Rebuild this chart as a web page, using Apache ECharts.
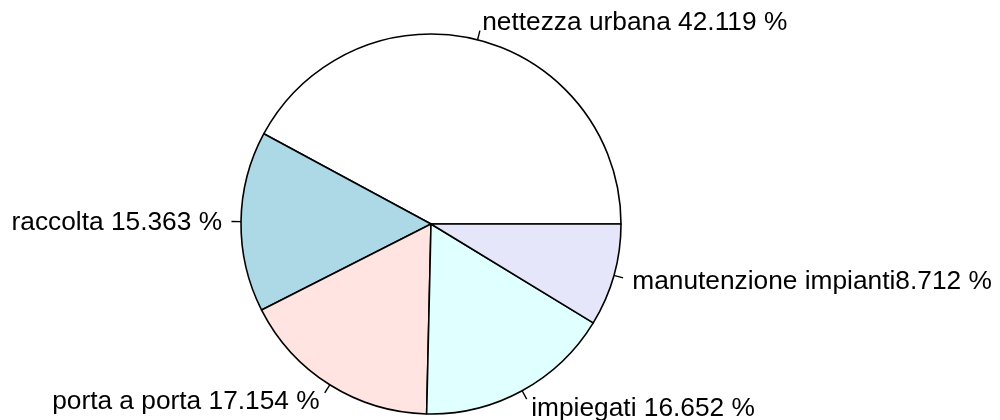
<!DOCTYPE html>
<html lang="it">
<head>
<meta charset="UTF-8">
<title>pie</title>
<style>
html, body { margin: 0; padding: 0; background: #fff; }
#chart { width: 1000px; height: 420px; }
</style>
</head>
<body>
<div id="chart"></div>
<script src="https://cdn.jsdelivr.net/npm/echarts@6/dist/echarts.min.js"></script>
<script>
// R pie default order: counter-clockwise from 3 o'clock
var categories = ['nettezza urbana ', 'raccolta ', 'porta a porta ', 'impiegati ', 'manutenzione impianti'];
var values = [42.119, 15.363, 17.154, 16.652, 8.712];
var colors = ['#ffffff', '#add8e6', '#ffe4e1', '#e0ffff', '#e6e6fa'];

var chart = echarts.init(document.getElementById('chart'));

var pieData = [];
for (var i = 0; i < categories.length; i++) {
    pieData.push({ name: categories[i], value: values[i], itemStyle: { color: colors[i] } });
}

var R = 190;

chart.setOption({
    animation: false,
    series: [{
        type: 'pie',
        center: [431, 224],
        radius: R,
        startAngle: 0,
        clockwise: false,
        avoidLabelOverlap: false,
        itemStyle: { borderColor: '#000', borderWidth: 1.6 },
        emphasis: { disabled: true },
        label: {
            show: true,
            color: '#000',
            fontFamily: 'Liberation Sans, Arial, sans-serif',
            fontSize: 26.3,
            formatter: function (p) { return p.name + p.value.toFixed(3) + ' %'; }
        },
        labelLine: {
            show: true,
            length: R * 0.05,
            length2: 0,
            lineStyle: { color: '#000', width: 1.4 }
        },
        labelLayout: function (params) {
            var pts = params.labelLinePoints;
            if (!pts) return {};
            var a = pts[0], b = pts[1];
            var dx = b[0] - a[0], dy = b[1] - a[1];
            var len = Math.sqrt(dx * dx + dy * dy) || 1;
            var ux = dx / len, uy = dy / len;
            return {
                x: b[0] + ux * R * 0.05,
                y: b[1] + uy * R * 0.05 + 1,
                align: ux >= 0 ? 'left' : 'right',
                verticalAlign: 'middle',
                labelLinePoints: [a, b, b]
            };
        },
        data: pieData
    }]
});
</script>
</body>
</html>
